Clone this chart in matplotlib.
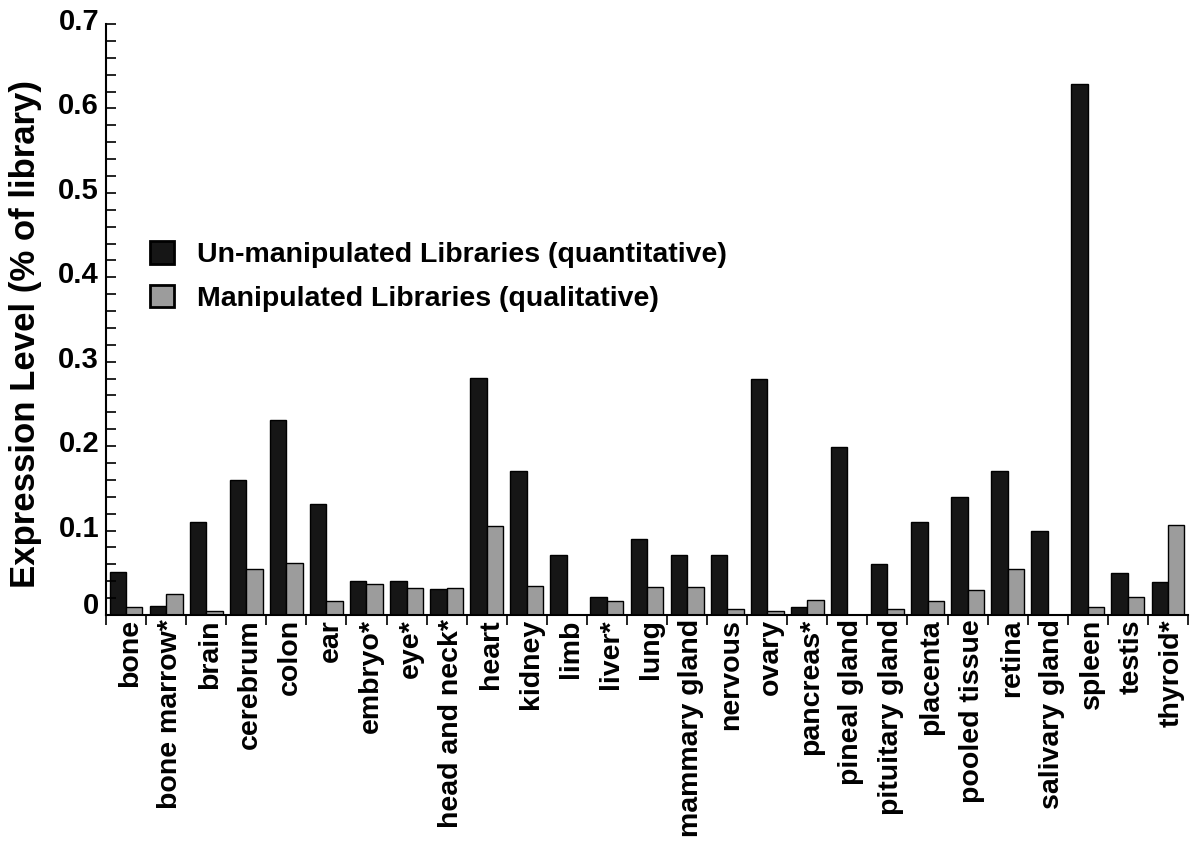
import matplotlib
matplotlib.use("Agg")
import matplotlib.pyplot as plt
import matplotlib.transforms as mtransforms
from matplotlib.patches import Patch
import numpy as np

categories = ["bone", "bone marrow*", "brain", "cerebrum", "colon", "ear", "embryo*", "eye*",
              "head and neck*", "heart", "kidney", "limb", "liver*", "lung", "mammary gland",
              "nervous", "ovary", "pancreas*", "pineal gland", "pituitary gland", "placenta",
              "pooled tissue", "retina", "salivary gland", "spleen", "testis", "thyroid*"]
unmanipulated = [0.051, 0.011, 0.110, 0.160, 0.231, 0.131, 0.040, 0.040, 0.031, 0.281,
                 0.170, 0.071, 0.021, 0.090, 0.071, 0.071, 0.280, 0.010, 0.199, 0.060,
                 0.110, 0.140, 0.170, 0.100, 0.629, 0.050, 0.039]
manipulated = [0.010, 0.025, 0.005, 0.054, 0.061, 0.016, 0.037, 0.032, 0.032, 0.105,
               0.034, 0.0, 0.017, 0.033, 0.033, 0.007, 0.005, 0.018, 0.0, 0.007,
               0.016, 0.030, 0.054, 0.0, 0.010, 0.021, 0.107]
series_labels = ["Un-manipulated Libraries (quantitative)", "Manipulated Libraries (qualitative)"]
yticks = [0, 0.1, 0.2, 0.3, 0.4, 0.5, 0.6, 0.7]
ytick_labels = ["0", "0.1", "0.2", "0.3", "0.4", "0.5", "0.6", "0.7"]

plt.rcParams['font.family'] = ['Liberation Sans', 'DejaVu Sans']

fig = plt.figure(figsize=(11.95, 8.44), dpi=100)
ax = fig.add_axes([106/1195, 1 - 615/844, (1188-106)/1195, (615-24)/844])

dark = "#161616"
light = "#9c9c9c"
x = np.arange(len(categories))
w = 0.41
ax.bar(x - w/2, unmanipulated, width=w, color=dark, edgecolor="black", linewidth=1.0)
ax.bar(x + w/2, manipulated, width=w, color=light, edgecolor="black", linewidth=1.0)

ax.set_xlim(-0.5, len(categories) - 0.5)
ax.set_ylim(0, 0.7)

for s in ["top", "right"]:
    ax.spines[s].set_visible(False)
for s in ["left", "bottom"]:
    ax.spines[s].set_linewidth(1.5)

ax.set_yticks(yticks)
ax.set_yticklabels(ytick_labels, fontsize=21, fontweight="bold")
ax.set_yticks(np.arange(0, 0.701, 0.02), minor=True)
ax.tick_params(axis="y", which="both", direction="in", length=7, width=1.2, pad=5)

ax.set_xticks(x)
ax.set_xticklabels(categories, rotation=90, fontsize=20.5, fontweight="bold")
ax.set_xticks(np.arange(len(categories) + 1) - 0.5, minor=True)
ax.tick_params(axis="x", which="major", length=0, pad=3)
ax.tick_params(axis="x", which="minor", direction="out", length=7, width=1.2)

for lab in ax.get_xticklabels():
    lab.set_transform(lab.get_transform() + mtransforms.ScaledTranslation(4/100, 0, fig.dpi_scale_trans))
for lab in ax.get_yticklabels():
    off = 12 if lab.get_text() == "0" else 5
    lab.set_transform(lab.get_transform() + mtransforms.ScaledTranslation(0, off/100, fig.dpi_scale_trans))

ax.set_ylabel("Expression Level (% of library)", fontsize=25, fontweight="bold")
ax.yaxis.set_label_coords((42 - 106) / 1082, (615 - 334) / 591)

handles = [Patch(facecolor=dark, edgecolor="black", linewidth=2),
           Patch(facecolor=light, edgecolor="black", linewidth=2)]
fig.legend(handles, series_labels, loc="upper left", bbox_to_anchor=(150/1195, 1 - 241/844),
           frameon=False, prop={"size": 20.5, "weight": "bold"},
           handlelength=0.84, handleheight=0.84,
           handletextpad=0.8, labelspacing=0.59, borderaxespad=0, borderpad=0)

fig.savefig("out.png", dpi=100)
